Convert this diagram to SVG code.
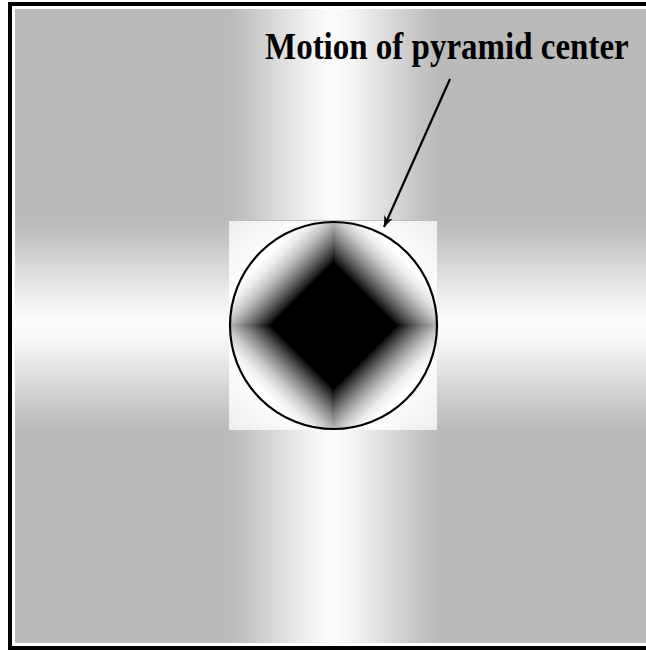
<svg xmlns="http://www.w3.org/2000/svg" width="646" height="650" viewBox="0 0 646 650">
  <style>
    .label { font-family: "Liberation Serif", "Times New Roman", serif; font-weight: bold; font-size: 33px; fill: #000; }
    .conn { stroke: #000; stroke-width: 2.2; fill: none; }
    .ring { fill: none; stroke: #000; stroke-width: 2.2; }
  </style>
  <defs>
    <linearGradient id="vband" x1="0" y1="0" x2="1" y2="0">
      <stop offset="0" stop-color="#bababa"/>
      <stop offset="0.1" stop-color="#c6c6c6"/>
      <stop offset="0.25" stop-color="#dddddd"/>
      <stop offset="0.38" stop-color="#f0f0f0"/>
      <stop offset="0.45" stop-color="#f8f8f8"/>
      <stop offset="0.5" stop-color="#fcfcfc"/>
      <stop offset="0.55" stop-color="#f8f8f8"/>
      <stop offset="0.62" stop-color="#f0f0f0"/>
      <stop offset="0.75" stop-color="#dddddd"/>
      <stop offset="0.9" stop-color="#c6c6c6"/>
      <stop offset="1" stop-color="#bababa"/>
    </linearGradient>
    <linearGradient id="hband" href="#vband" x1="0" y1="0" x2="0" y2="1"/>
    <radialGradient id="sq" cx="0.5" cy="0.5" r="0.7">
      <stop offset="0" stop-color="#ffffff"/>
      <stop offset="0.7" stop-color="#fdfdfd"/>
      <stop offset="1" stop-color="#ededed"/>
    </radialGradient>
    <linearGradient id="pyr" x1="0" y1="0" x2="1" y2="0">
      <stop offset="0" stop-color="#000"/>
      <stop offset="0.05" stop-color="#181818"/>
      <stop offset="0.2" stop-color="#4e4e4e"/>
      <stop offset="0.4" stop-color="#8e8e8e"/>
      <stop offset="0.6" stop-color="#c4c4c4"/>
      <stop offset="0.8" stop-color="#ebebeb"/>
      <stop offset="1" stop-color="#fff"/>
    </linearGradient>
    <linearGradient id="gUR" href="#pyr" gradientUnits="userSpaceOnUse" x1="365" y1="294" x2="402" y2="257"/>
    <linearGradient id="gUL" href="#pyr" gradientUnits="userSpaceOnUse" x1="302" y1="294" x2="265" y2="257"/>
    <linearGradient id="gLL" href="#pyr" gradientUnits="userSpaceOnUse" x1="302" y1="357" x2="265" y2="394"/>
    <linearGradient id="gLR" href="#pyr" gradientUnits="userSpaceOnUse" x1="365" y1="357" x2="402" y2="394"/>
    <clipPath id="circ"><circle cx="333.5" cy="325.5" r="103.5"/></clipPath>
    <marker id="arr" viewBox="0 0 12 10" refX="11" refY="5" markerWidth="12" markerHeight="10" markerUnits="userSpaceOnUse" orient="auto">
      <path d="M0,0.5 L11,5 L0,9.5 L3,5 Z" fill="#000"/>
    </marker>
  </defs>

  <g id="frame">
    <rect x="8" y="2" width="640" height="650" fill="#000"/>
    <rect x="12" y="6" width="636" height="640" fill="#fff"/>
    <rect x="15" y="9" width="633" height="634" fill="#bababa"/>
  </g>

  <g id="bands">
    <rect x="228" y="9" width="210" height="634" fill="url(#vband)"/>
    <rect x="15" y="220" width="633" height="210" fill="url(#hband)"/>
    <rect x="229" y="221" width="208" height="209" fill="url(#sq)"/>
  </g>

  <g id="pyramid">
    <g clip-path="url(#circ)">
      <rect x="332.5" y="222" width="105" height="104.5" fill="url(#gUR)"/>
      <rect x="230" y="222" width="104.5" height="104.5" fill="url(#gUL)"/>
      <rect x="230" y="324.5" width="104.5" height="105" fill="url(#gLL)"/>
      <rect x="332.5" y="324.5" width="105" height="105" fill="url(#gLR)"/>
    </g>
    <circle class="ring" cx="333.5" cy="325.5" r="103.5"/>
  </g>

  <g id="label">
    <text class="label" transform="translate(265,59) scale(1,1.18)">Motion of pyramid center</text>
  </g>

  <g id="connectors">
    <line class="conn" x1="450" y1="79" x2="384" y2="227" marker-end="url(#arr)"/>
  </g>
</svg>
